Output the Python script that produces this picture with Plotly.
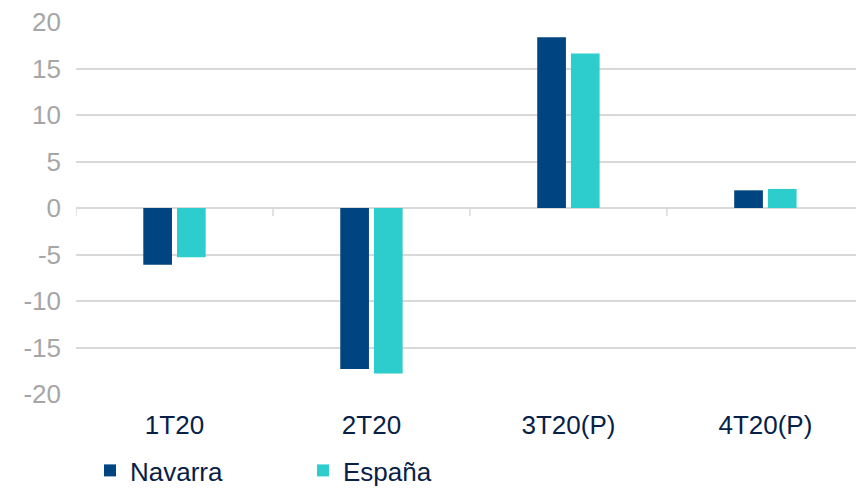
import plotly.graph_objects as go

categories = ["1T20", "2T20", "3T20(P)", "4T20(P)"]
navarra = [-6.1, -17.3, 18.35, 1.9]
espana = [-5.3, -17.8, 16.6, 2.05]
y_ticks = [-20, -15, -10, -5, 0, 5, 10, 15, 20]
y_tick_labels = [str(v) for v in y_ticks]

NAVY = "#004481"
AQUA = "#2dcccd"
GRID = "#d9d9d9"
FONT = "Liberation Sans, Arial, sans-serif"

fig = go.Figure()
fig.add_trace(go.Bar(x=categories, y=navarra, name="Navarra",
                     marker=dict(color=NAVY, line=dict(width=0))))
fig.add_trace(go.Bar(x=categories, y=espana, name="España",
                     marker=dict(color=AQUA, line=dict(width=0))))

# small tick marks on the zero line at category boundaries
for i in range(len(categories) + 1):
    fig.add_shape(type="line", xref="x", yref="y", x0=i - 0.5, x1=i - 0.5,
                  ysizemode="pixel", yanchor=0, y0=0, y1=-8,
                  line=dict(color=GRID, width=1.5), layer="below")

fig.update_layout(
    width=856, height=494,
    margin=dict(l=76, r=0, t=22, b=100),
    paper_bgcolor="white", plot_bgcolor="white",
    barmode="group", bargap=0.658, bargroupgap=0.148,
    font=dict(family=FONT, size=26, color="#072146"),
    showlegend=True,
    legend=dict(orientation="h", x=(90 - 76) / 780, xanchor="left",
                xref="paper", yref="container",
                y=-0.012, yanchor="bottom",
                entrywidth=168, entrywidthmode="pixels",
                font=dict(family=FONT, size=26, color="#072146"),
                bgcolor="rgba(0,0,0,0)", borderwidth=0,
                traceorder="normal"),
    xaxis=dict(range=[-0.5, 3.46], showgrid=False, zeroline=False,
               showline=False, ticks="", ticklabelstandoff=13,
               automargin=False,
               tickfont=dict(family=FONT, size=26, color="#072146")),
    yaxis=dict(range=[-20, 20], tickvals=y_ticks, ticktext=y_tick_labels,
               showgrid=True,
               gridcolor=GRID, gridwidth=1.5, zeroline=True,
               zerolinecolor=GRID, zerolinewidth=1.5, showline=False,
               ticks="", ticklabelstandoff=14, automargin=False,
               tickfont=dict(family=FONT, size=26, color="#a6a6a6")),
)

fig.write_html("out.html", config={"displayModeBar": False},
               post_script="document.body.style.margin='0';")
